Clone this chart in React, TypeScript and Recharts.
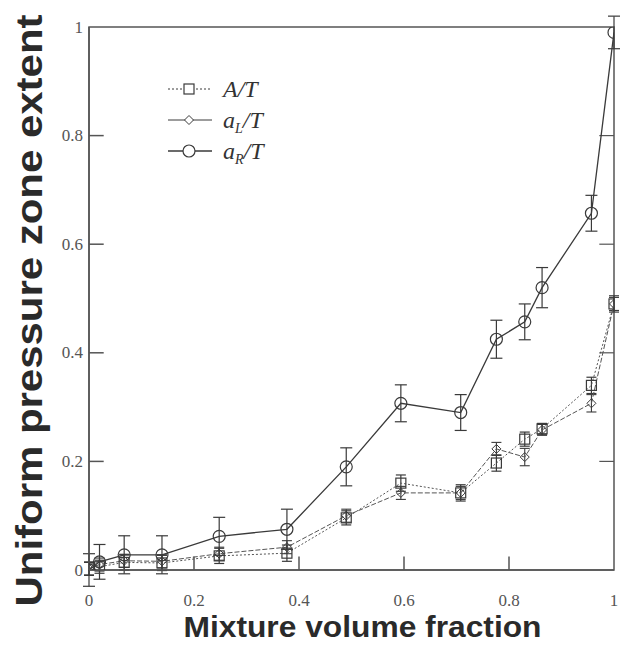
import React from 'react';
import { LineChart, Line, XAxis, YAxis, ErrorBar, Legend, Label, ReferenceLine, ReferenceArea } from 'recharts';

// Mixture volume fraction for each measured case
const fraction = [0, 0.02, 0.067, 0.139, 0.248, 0.377, 0.49, 0.594, 0.708, 0.776, 0.83, 0.863, 0.957, 1.0];
// A/T
const areaT = [0.002, 0.006, 0.014, 0.013, 0.026, 0.031, 0.096, 0.16, 0.142, 0.197, 0.241, 0.26, 0.34, 0.49];
const areaTErr = [0.012, 0.012, 0.014, 0.014, 0.014, 0.015, 0.013, 0.015, 0.015, 0.015, 0.013, 0.01, 0.015, 0.015];
// a_L/T
const aLT = [0.003, 0.01, 0.017, 0.016, 0.03, 0.042, 0.1, 0.142, 0.142, 0.223, 0.208, 0.258, 0.307, 0.49];
const aLTErr = [0.012, 0.012, 0.012, 0.012, 0.012, 0.012, 0.012, 0.012, 0.012, 0.012, 0.016, 0.01, 0.016, 0.012];
// a_R/T
const aRT = [0.0, 0.015, 0.028, 0.028, 0.062, 0.075, 0.19, 0.307, 0.29, 0.425, 0.457, 0.52, 0.657, 0.99];
const aRTErr = [0.03, 0.032, 0.035, 0.035, 0.035, 0.037, 0.035, 0.034, 0.033, 0.035, 0.033, 0.037, 0.033, 0.03];

const xTicks = [0, 0.2, 0.4, 0.6, 0.8, 1];
const xTickLabels = ['0', '0.2', '0.4', '0.6', '0.8', '1'];
const yTicks = [0, 0.2, 0.4, 0.6, 0.8, 1];
const yTickLabels = ['0', '0.2', '0.4', '0.6', '0.8', '1'];

const xTitle = 'Mixture volume fraction';
const yTitle = 'Uniform pressure zone extent';

const rows = fraction.map((f, i) => ({
  f,
  A: areaT[i],
  AErr: areaTErr[i],
  aL: aLT[i],
  aLErr: aLTErr[i],
  aR: aRT[i],
  aRErr: aRTErr[i],
}));

const INK = '#3a3a3a';
const AXIS = '#555555';
const TICK_TEXT = '#555';

// inward tick marks, in axis units (about 14 px long)
const TICK_DX = 0.028;
const TICK_DY = 0.025;
const innerYTicks = yTicks.filter((v) => v > 0 && v < 1);
const innerXTicks = xTicks.filter((v) => v > 0 && v < 1);

const SquareDot = (props: any) => {
  const { cx, cy, index } = props;
  if (cx == null || cy == null) return <g key={`sq-${index}`} />;
  return <rect key={`sq-${index}`} x={cx - 5} y={cy - 5} width={10} height={10} fill="none" stroke={INK} strokeWidth={1.2} />;
};

const DiamondDot = (props: any) => {
  const { cx, cy, index } = props;
  if (cx == null || cy == null) return <g key={`dm-${index}`} />;
  const r = 4.5;
  return (
    <path
      key={`dm-${index}`}
      d={`M${cx},${cy - r} L${cx + r},${cy} L${cx},${cy + r} L${cx - r},${cy} Z`}
      fill="none"
      stroke={INK}
      strokeWidth={1}
    />
  );
};

const CircleDot = (props: any) => {
  const { cx, cy, index } = props;
  if (cx == null || cy == null) return <g key={`ci-${index}`} />;
  return <circle key={`ci-${index}`} cx={cx} cy={cy} r={6} fill="none" stroke={INK} strokeWidth={1.2} />;
};

const LeftTick = (props: any) => {
  const { x, y, index, payload } = props;
  return (
    <text x={x} y={y} textAnchor="end" dominantBaseline="central" fontFamily="Liberation Serif, serif" fontSize={17} fill={TICK_TEXT}>
      {yTickLabels[index] ?? String(payload.value)}
    </text>
  );
};

const BottomTick = (props: any) => {
  const { x, y, index, payload } = props;
  return (
    <text x={x} y={y} textAnchor="middle" dominantBaseline="central" fontFamily="Liberation Serif, serif" fontSize={17} fill={TICK_TEXT}>
      {xTickLabels[index] ?? String(payload.value)}
    </text>
  );
};

const XTitle = (props: any) => {
  const vb = props.viewBox || {};
  const cx = vb.x + vb.width / 2 + 11;
  return (
    <text
      x={cx}
      y={vb.y + 57}
      textAnchor="middle"
      dominantBaseline="central"
      fontFamily="Liberation Sans, Arial, sans-serif"
      fontWeight="bold"
      fontSize={29}
      textLength={358}
      lengthAdjust="spacingAndGlyphs"
      fill="#2a2a2a"
    >
      {xTitle}
    </text>
  );
};

const YTitle = (props: any) => {
  const vb = props.viewBox || {};
  const cy = vb.y + vb.height / 2 + 12;
  const cx = 29;
  return (
    <text
      x={cx}
      y={cy}
      transform={`rotate(-90 ${cx} ${cy})`}
      textAnchor="middle"
      dominantBaseline="central"
      fontFamily="Liberation Sans, Arial, sans-serif"
      fontWeight="bold"
      fontSize={37}
      textLength={592}
      lengthAdjust="spacingAndGlyphs"
      fill="#2a2a2a"
    >
      {yTitle}
    </text>
  );
};

const legendItems = [
  { key: 'A', main: 'A', sub: '', dash: '2 2', marker: 'square' },
  { key: 'aL', main: 'a', sub: 'L', dash: undefined, marker: 'diamond' },
  { key: 'aR', main: 'a', sub: 'R', dash: undefined, marker: 'circle' },
];

const LegendBox = () => (
  <svg width={180} height={100} style={{ display: 'block' }}>
    {legendItems.map((it, i) => {
      const cy = 17 + i * 31;
      return (
        <g key={it.key}>
          <line x1={8} x2={52} y1={cy} y2={cy} stroke={INK} strokeWidth={it.key === 'aR' ? 1.4 : 1} strokeDasharray={it.dash} />
          {it.marker === 'square' && <rect x={24} y={cy - 5} width={10} height={10} fill="white" stroke={INK} strokeWidth={1.2} />}
          {it.marker === 'diamond' && (
            <path d={`M29,${cy - 4.5} L33.5,${cy} L29,${cy + 4.5} L24.5,${cy} Z`} fill="white" stroke={INK} strokeWidth={1} />
          )}
          {it.marker === 'circle' && <circle cx={29} cy={cy} r={6} fill="white" stroke={INK} strokeWidth={1.2} />}
          <text x={63} y={cy + 8} fontFamily="Liberation Serif, serif" fontStyle="italic" fontSize={24} fill="#333">
            {it.main}
            {it.sub && (
              <tspan fontSize={14} dy={5}>
                {it.sub}
              </tspan>
            )}
            <tspan dy={it.sub ? -5 : 0}>/T</tspan>
          </text>
        </g>
      );
    })}
  </svg>
);

export default function App() {
  return (
    <div style={{ position: 'absolute', left: 0, top: 0, width: 621, height: 650, background: '#fff' }}>
      <LineChart width={621} height={650} data={rows} margin={{ top: 27, right: 7, bottom: 0, left: 0 }}>
        <XAxis
          dataKey="f"
          type="number"
          domain={[0, 1]}
          allowDataOverflow
          ticks={xTicks}
          height={80}
          tickLine={false}
          tickSize={0}
          tickMargin={30}
          tick={BottomTick}
          axisLine={{ stroke: AXIS, strokeWidth: 1.5 }}
          interval={0}
        >
          <Label content={XTitle} />
        </XAxis>
        <YAxis
          type="number"
          domain={[0, 1]}
          allowDataOverflow
          ticks={yTicks}
          width={89}
          tickLine={false}
          tickSize={0}
          tickMargin={6}
          tick={LeftTick}
          axisLine={{ stroke: AXIS, strokeWidth: 1.5 }}
          interval={0}
        >
          <Label content={YTitle} />
        </YAxis>

        {/* plot frame */}
        <ReferenceArea x1={0} x2={1} y1={0} y2={1} fill="none" fillOpacity={0} stroke={AXIS} strokeWidth={1.5} ifOverflow="visible" />

        {/* inward tick marks on the left, bottom and right edges */}
        {innerYTicks.map((v) => (
          <ReferenceLine
            key={`yl-${v}`}
            segment={[{ x: 0, y: v }, { x: TICK_DX, y: v }]}
            stroke={AXIS}
            strokeWidth={1.5}
            ifOverflow="visible"
          />
        ))}
        {innerYTicks.map((v) => (
          <ReferenceLine
            key={`yr-${v}`}
            segment={[{ x: 1 - TICK_DX, y: v }, { x: 1, y: v }]}
            stroke={AXIS}
            strokeWidth={1.2}
            ifOverflow="visible"
          />
        ))}
        {innerXTicks.map((v) => (
          <ReferenceLine
            key={`xb-${v}`}
            segment={[{ x: v, y: 0 }, { x: v, y: TICK_DY }]}
            stroke={AXIS}
            strokeWidth={1.5}
            ifOverflow="visible"
          />
        ))}

        <Legend
          layout="vertical"
          align="center"
          verticalAlign="middle"
          content={LegendBox}
          wrapperStyle={{ position: 'absolute', left: 160, top: 72, width: 180, height: 100 }}
        />
        <Line
          dataKey="A"
          stroke="#555"
          strokeWidth={1}
          strokeDasharray="2 2"
          dot={SquareDot}
          activeDot={false}
          isAnimationActive={false}
        >
          <ErrorBar dataKey="AErr" width={5} stroke={INK} strokeWidth={1.2} direction="y" isAnimationActive={false} />
        </Line>
        <Line
          dataKey="aL"
          stroke="#555"
          strokeWidth={1}
          strokeDasharray="5 2"
          dot={DiamondDot}
          activeDot={false}
          isAnimationActive={false}
        >
          <ErrorBar dataKey="aLErr" width={5} stroke={INK} strokeWidth={1.1} direction="y" isAnimationActive={false} />
        </Line>
        <Line dataKey="aR" stroke={INK} strokeWidth={1.3} dot={CircleDot} activeDot={false} isAnimationActive={false}>
          <ErrorBar dataKey="aRErr" width={6} stroke={INK} strokeWidth={1.2} direction="y" isAnimationActive={false} />
        </Line>
      </LineChart>
    </div>
  );
}
